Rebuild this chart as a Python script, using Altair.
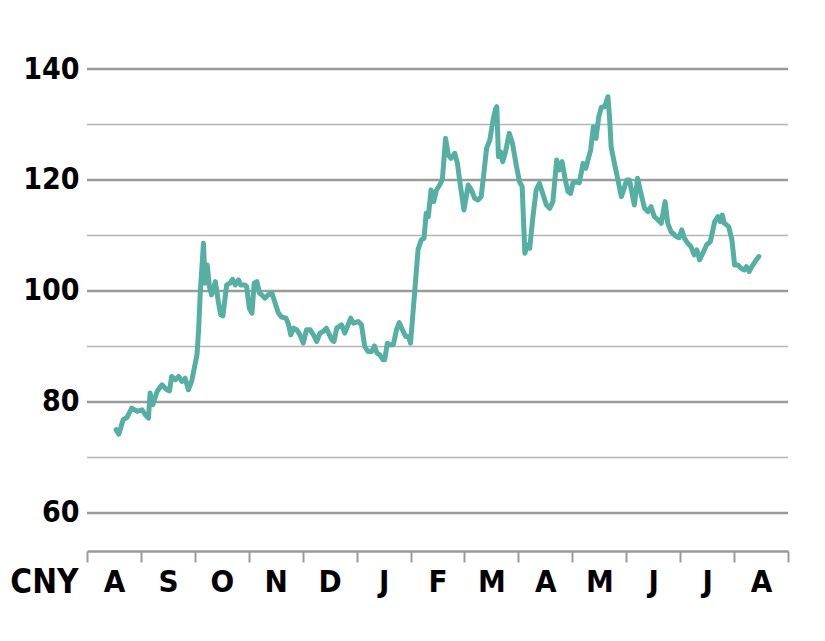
import altair as alt
import pandas as pd

# Month position (0 = start of first August) and price in CNY
month_pos = [0.54, 0.59, 0.67, 0.74, 0.83, 0.93, 1.02, 1.08, 1.14, 1.17, 1.22, 1.30, 1.39, 1.48, 1.53,
             1.57, 1.64, 1.70, 1.76, 1.82, 1.88, 1.94, 2.04, 2.07, 2.10, 2.16, 2.19, 2.23, 2.27, 2.31,
             2.38, 2.44, 2.48, 2.52, 2.59, 2.65, 2.70, 2.75, 2.81, 2.85, 2.93, 2.96, 3.01, 3.06, 3.10,
             3.15, 3.20, 3.24, 3.30, 3.36, 3.43, 3.49, 3.55, 3.61, 3.69, 3.73, 3.78, 3.83, 3.89, 3.95,
             4.01, 4.07, 4.14, 4.20, 4.26, 4.32, 4.38, 4.44, 4.54, 4.58, 4.63, 4.72, 4.78, 4.89, 4.94,
             5.03, 5.09, 5.15, 5.21, 5.28, 5.33, 5.38, 5.43, 5.49, 5.52, 5.57, 5.62, 5.68, 5.74, 5.79,
             5.85, 5.91, 5.96, 6.00, 6.08, 6.14, 6.20, 6.25, 6.29, 6.33, 6.38, 6.43, 6.48, 6.54, 6.59,
             6.65, 6.70, 6.75, 6.82, 6.87, 6.91, 6.99, 7.07, 7.13, 7.19, 7.25, 7.31, 7.36, 7.41, 7.47,
             7.53, 7.58, 7.60, 7.63, 7.67, 7.71, 7.76, 7.83, 7.89, 7.96, 8.02, 8.07, 8.12, 8.16, 8.21,
             8.27, 8.33, 8.39, 8.46, 8.52, 8.58, 8.64, 8.71, 8.76, 8.81, 8.87, 8.92, 8.97, 9.01, 9.07,
             9.13, 9.20, 9.25, 9.29, 9.34, 9.39, 9.44, 9.49, 9.54, 9.60, 9.66, 9.69, 9.72, 9.78, 9.84,
             9.91, 9.97, 10.01, 10.06, 10.15, 10.21, 10.28, 10.34, 10.40, 10.46, 10.52, 10.59, 10.65, 10.72, 10.77,
             10.83, 10.93, 10.98, 11.03, 11.08, 11.14, 11.20, 11.26, 11.31, 11.36, 11.42, 11.49, 11.56, 11.64, 11.70,
             11.74, 11.78, 11.82, 11.90, 11.96, 12.01, 12.07, 12.13, 12.19, 12.23, 12.28, 12.33, 12.39, 12.46]

price = [75.0, 74.2, 76.8, 77.2, 78.9, 78.3, 78.6, 77.7, 77.1, 81.6, 79.5, 81.9, 83.1, 82.2, 82.0,
         84.6, 84.0, 84.6, 83.7, 84.3, 82.2, 83.7, 88.5, 93.0, 99.6, 108.6, 101.4, 104.7, 100.8, 99.3,
         101.7, 97.8, 95.7, 95.5, 101.1, 101.4, 102.1, 101.1, 102.0, 101.1, 101.1, 100.8, 96.9, 96.0, 101.4,
         101.7, 99.6, 99.3, 98.7, 99.3, 99.6, 97.8, 96.0, 95.3, 95.1, 94.2, 92.1, 93.3, 93.0, 92.1,
         90.6, 93.0, 93.0, 92.1, 90.9, 92.4, 92.7, 93.3, 91.2, 90.9, 93.3, 93.9, 92.4, 95.1, 94.2,
         94.5, 93.9, 90.0, 89.1, 89.1, 90.1, 88.8, 88.5, 87.6, 87.6, 90.6, 90.3, 90.3, 93.0, 94.3,
         93.0, 91.8, 91.8, 90.6, 100.2, 107.5, 109.2, 109.5, 114.0, 113.4, 118.2, 116.1, 118.2, 119.1, 120.1,
         127.5, 124.5, 123.9, 124.8, 123.0, 120.0, 114.6, 119.1, 118.2, 116.7, 116.4, 117.0, 121.2, 125.7, 127.2,
         130.8, 132.9, 133.2, 124.2, 125.1, 123.3, 125.0, 128.4, 126.6, 122.7, 119.7, 118.8, 106.8, 108.3, 107.7,
         113.4, 118.2, 119.4, 117.3, 115.5, 114.9, 116.1, 123.6, 121.8, 123.3, 120.0, 117.9, 117.6, 119.4, 119.7,
         119.5, 123.0, 122.1, 123.6, 125.4, 129.6, 127.5, 131.4, 133.1, 133.2, 135.0, 131.4, 126.0, 123.0, 120.3,
         117.0, 118.8, 120.0, 120.0, 115.5, 120.3, 117.3, 114.9, 114.3, 115.2, 113.4, 112.8, 112.2, 116.1, 112.2,
         110.7, 109.8, 109.6, 111.0, 109.5, 108.6, 108.0, 106.5, 107.4, 105.6, 106.8, 108.3, 108.9, 112.5, 113.4,
         112.5, 113.7, 112.2, 111.6, 109.2, 104.7, 104.7, 104.1, 103.8, 104.4, 103.5, 104.4, 105.3, 106.2]

month_labels = ["A", "S", "O", "N", "D", "J", "F", "M", "A", "M", "J", "J", "A", ""]
major_grid = [60, 80, 100, 120, 140]
minor_grid = [70, 90, 110, 130]
y_labels = [60, 80, 100, 120, 140]

FONT = "'DejaVu Sans Condensed', 'Roboto', sans-serif"
df = pd.DataFrame({"m": month_pos, "price": price})

x_scale = alt.Scale(domain=[0, 13], nice=False, zero=False)
y_scale = alt.Scale(domain=[53.15, 140], nice=False, zero=False)

label_expr = "[" + ",".join("'" + s + "'" for s in month_labels) + "][datum.value]"

minor = alt.Chart(pd.DataFrame({"v": minor_grid})).mark_rule(
    color="#b5b5b5", strokeWidth=1.5
).encode(y=alt.Y("v:Q", scale=y_scale))

major = alt.Chart(pd.DataFrame({"v": major_grid})).mark_rule(
    color="#9a9a9a", strokeWidth=2.5
).encode(y=alt.Y("v:Q", scale=y_scale))

line = alt.Chart(df).mark_line(
    color="#56afa3", strokeWidth=5, strokeJoin="round", strokeCap="round"
).encode(
    x=alt.X("m:Q", scale=x_scale, axis=alt.Axis(
        values=list(range(14)), labelExpr=label_expr, labelOffset=27, labelFlush=False,
        labelOverlap=False, labelAlign="center",
        title=None, grid=False, domain=True, domainColor="#9a9a9a", domainWidth=2.5,
        ticks=True, tickColor="#9a9a9a", tickWidth=2, tickSize=11,
        labelFont=FONT, labelFontWeight="bold", labelFontSize=31, labelColor="#000",
        labelPadding=5, labelBaseline="top")),
    y=alt.Y("price:Q", scale=y_scale, axis=alt.Axis(
        values=y_labels, grid=False, domain=False, ticks=False,
        labelFont=FONT, labelFontWeight="bold", labelFontSize=30, labelColor="#000",
        labelPadding=8, title="CNY", titleAngle=0, titleFont=FONT, titleFontWeight="bold",
        titleFontSize=33, titleColor="#000", titleX=-9, titleY=523, titleAlign="right",
        titleBaseline="alphabetic")),
)

chart = alt.layer(minor, major, line).properties(
    width=701, height=482,
    background="white",
    autosize=alt.AutoSizeParams(type="none"),
    padding={"left": 79, "top": 61, "right": 20, "bottom": 80},
).configure_view(stroke=None)

chart.save("out.html", embed_options={"renderer": "svg", "actions": False})
